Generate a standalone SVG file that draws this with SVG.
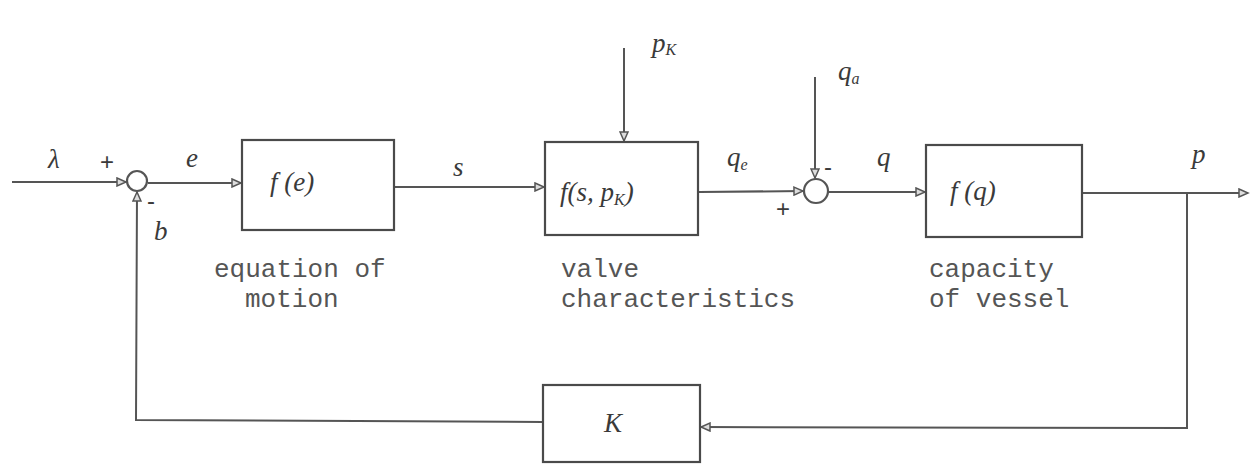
<svg xmlns="http://www.w3.org/2000/svg" width="1255" height="473" viewBox="0 0 1255 473">
<style>
.bg{fill:#ffffff}
.box{fill:none;stroke:#4a4a4a;stroke-width:2.2}
.ln{fill:none;stroke:#555;stroke-width:2}
.sum{fill:none;stroke:#555;stroke-width:2.2}
.hw{font-family:"Liberation Serif",serif;font-style:italic;fill:#3a3a3a;font-size:27px}
.hs{font-family:"Liberation Serif",serif;font-style:italic;fill:#3a3a3a;font-size:16px}
.sg{font-family:"Liberation Sans",sans-serif;fill:#3a3a3a;font-size:24px}
.tw{font-family:"Liberation Mono",monospace;fill:#555;font-size:26px}
</style>
<defs>
<marker id="ah" markerWidth="12" markerHeight="10" refX="10" refY="5" orient="auto" markerUnits="userSpaceOnUse">
<path d="M1,1 L10,5 L1,9 Z" fill="#ddd" stroke="#555" stroke-width="1.5"/>
</marker>
</defs>
<rect class="bg" x="0" y="0" width="1255" height="473"/>
<g id="connectors">
<line class="ln" x1="12" y1="182" x2="126" y2="182" marker-end="url(#ah)"/>
<line class="ln" x1="148" y1="183" x2="241" y2="183" marker-end="url(#ah)"/>
<line class="ln" x1="395" y1="187" x2="544" y2="187" marker-end="url(#ah)"/>
<line class="ln" x1="624" y1="48" x2="624" y2="141" marker-end="url(#ah)"/>
<line class="ln" x1="699" y1="192" x2="803" y2="191" marker-end="url(#ah)"/>
<line class="ln" x1="815" y1="77" x2="815" y2="178" marker-end="url(#ah)"/>
<line class="ln" x1="828" y1="192" x2="925" y2="192" marker-end="url(#ah)"/>
<line class="ln" x1="1083" y1="193" x2="1248" y2="193" marker-end="url(#ah)"/>
<polyline class="ln" points="1187,193 1187,428 701,427" marker-end="url(#ah)"/>
<polyline class="ln" points="543,422 136,420 137,192" marker-end="url(#ah)"/>
</g>
<g id="sum1">
<circle class="sum" cx="137" cy="181" r="10"/>
<text class="sg" x="100" y="170">+</text>
<text class="sg" x="147" y="209">-</text>
</g>
<g id="sum2">
<circle class="sum" cx="816" cy="191" r="12"/>
<text class="sg" x="824" y="175">-</text>
<text class="sg" x="776" y="217">+</text>
</g>
<g id="block-motion">
<rect class="box" x="242" y="140" width="152" height="90"/>
<text class="hw" x="270" y="191">f (e)</text>
<text class="tw" x="214" y="277">equation of</text>
<text class="tw" x="245" y="307">motion</text>
</g>
<g id="block-valve">
<rect class="box" x="545" y="142" width="153" height="93"/>
<text class="hw" x="560" y="201">f(s, p<tspan class="hs" dy="4">K</tspan><tspan dy="-4">)</tspan></text>
<text class="tw" x="561" y="277">valve</text>
<text class="tw" x="561" y="307">characteristics</text>
</g>
<g id="block-vessel">
<rect class="box" x="926" y="145" width="156" height="92"/>
<text class="hw" x="950" y="200">f (q)</text>
<text class="tw" x="929" y="277">capacity</text>
<text class="tw" x="929" y="307">of vessel</text>
</g>
<g id="block-K">
<rect class="box" x="543" y="385" width="157" height="77"/>
<text class="hw" x="604" y="432">K</text>
</g>
<g id="labels">
<text class="hw" x="48" y="168">λ</text>
<text class="hw" x="186" y="167">e</text>
<text class="hw" x="154" y="240">b</text>
<text class="hw" x="453" y="176">s</text>
<text class="hw" x="652" y="52">p<tspan class="hs" dy="3">K</tspan></text>
<text class="hw" x="727" y="166">q<tspan class="hs" dy="4">e</tspan></text>
<text class="hw" x="838" y="80">q<tspan class="hs" dy="4">a</tspan></text>
<text class="hw" x="877" y="166">q</text>
<text class="hw" x="1192" y="163">p</text>
</g>
</svg>
